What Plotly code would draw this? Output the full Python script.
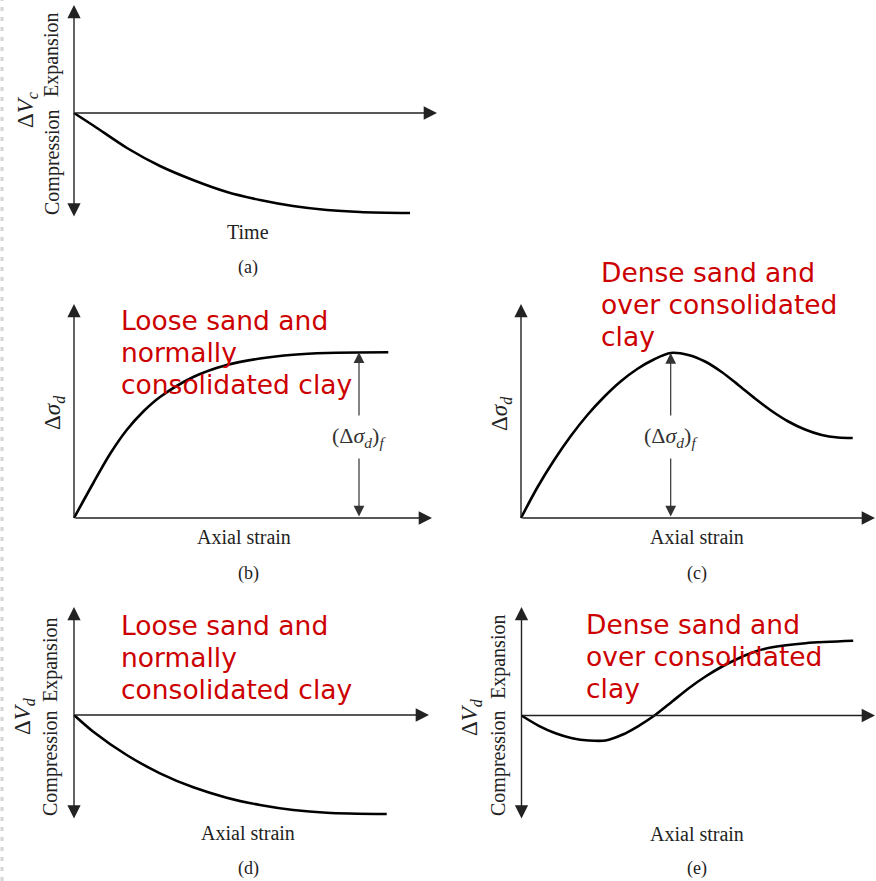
import plotly.graph_objects as go

W, H = 876, 881

# ---------------- data (arbitrary schematic units) ----------------
# (a) volume change during consolidation vs time
time_a = [0, 20, 53, 86, 119, 153, 186, 219, 253, 286, 336]
dVc_a = [0, -13, -35, -53, -67, -79, -87, -93, -97, -99, -100]

# (b) loose sand / normally consolidated clay: deviator stress vs axial strain
strain_b = [0, 19.3, 36, 52.7, 69.3, 86, 119.3, 152.7, 186, 219.3, 252.7, 314.3]
dsig_b = [0, 35, 64, 88, 106.5, 121, 141, 153, 159.5, 163.3, 165, 165.7]

# (c) dense sand / over consolidated clay: deviator stress vs axial strain
strain_c = [0, 16.6, 33.2, 49.8, 66.4, 83, 99.6, 116.2, 132.8, 149.7, 167.3, 184,
            200.7, 217.3, 234, 250.7, 267.3, 284, 300.7, 317, 331.7]
dsig_c = [0, 31, 58, 82, 103, 121, 136.5, 149, 158.5, 165, 163, 156.5,
          146, 133, 119.5, 107, 96.5, 88.5, 83, 80.5, 80]

# (d) loose sand: volume change vs axial strain
strain_d = [0, 19.3, 52.7, 86, 119.3, 152.7, 186, 219.3, 252.7, 312.7]
dVd_d = [0, -16.7, -40, -58.3, -72.3, -82.7, -90, -95, -97.7, -99]

# (e) dense sand: volume change vs axial strain
strain_e = [0, 17.3, 34, 50.7, 67.3, 84, 100.7, 117.3, 134, 150.7, 167.3, 184,
            200.7, 217.3, 234, 250.7, 284, 331.7]
dVd_e = [0, -10.3, -17.7, -22.7, -25, -25, -19.3, -10.3, 0.7, 14, 27.3, 39,
         49, 57.3, 64, 68.3, 72.3, 74.7]

failure_b_x = 285  # strain at which (Δσd)f is marked in (b)

loose_lines = ["Loose sand and", "normally", "consolidated clay"]
dense_lines = ["Dense sand and", "over consolidated", "clay"]

# ---------------- layout helpers ----------------
SERIF = "Liberation Serif, Times New Roman, serif"
SANS = "DejaVu Sans, Verdana, sans-serif"
RED = "#cc0000"
INK = "#222222"


def px(x):
    return x / W


def py(y):
    return 1 - y / H


fig = go.Figure()
annotations = []

# panel geometry in pixels: origin and box (left, right, top, bottom)
panels = [
    dict(name="a", origin=(74, 113), box=(55, 450, 0, 226),
         xhead=437, yup=5, ydown=218),
    dict(name="b", origin=(74, 518), box=(55, 450, 290, 530),
         xhead=432, yup=304, ydown=None),
    dict(name="c", origin=(521, 518), box=(505, 876, 290, 530),
         xhead=875, yup=304, ydown=None),
    dict(name="d", origin=(74, 715), box=(55, 450, 600, 826),
         xhead=429, yup=607, ydown=820),
    dict(name="e", origin=(521.5, 715.5), box=(505, 876, 600, 826),
         xhead=875, yup=607, ydown=820),
]

series = {
    "a": (time_a, dVc_a),
    "b": (strain_b, dsig_b),
    "c": (strain_c, dsig_c),
    "d": (strain_d, dVd_d),
    "e": (strain_e, dVd_e),
}

axis_common = dict(visible=False, showgrid=False, zeroline=False, fixedrange=True)

for i, p in enumerate(panels, start=1):
    ox, oy = p["origin"]
    l, r, t, b = p["box"]
    xa = "xaxis" if i == 1 else f"xaxis{i}"
    ya = "yaxis" if i == 1 else f"yaxis{i}"
    xr = "x" if i == 1 else f"x{i}"
    yr = "y" if i == 1 else f"y{i}"
    fig.update_layout(**{
        xa: dict(domain=[px(l), px(r)], range=[l - ox, r - ox], anchor=yr, **axis_common),
        ya: dict(domain=[py(b), py(t)], range=[oy - b, oy - t], anchor=xr, **axis_common),
    })
    xs, ys = series[p["name"]]
    fig.add_trace(go.Scatter(x=xs, y=ys, mode="lines", xaxis=xr, yaxis=yr,
                             line=dict(color="black", width=2.6, shape="spline", smoothing=0.9),
                             hoverinfo="skip", showlegend=False))
    arrow = dict(xref=xr, yref=yr, axref=xr, ayref=yr, text="", showarrow=True,
                 arrowhead=2, arrowsize=1.9, arrowwidth=1.4, arrowcolor=INK, standoff=0)
    # horizontal axis
    annotations.append(dict(arrow, x=p["xhead"] - ox, y=0, ax=0, ay=0))
    # vertical axis
    if p["ydown"] is None:
        annotations.append(dict(arrow, x=0, y=oy - p["yup"], ax=0, ay=0))
    else:
        annotations.append(dict(arrow, x=0, y=oy - p["yup"], ax=0, ay=oy - p["ydown"],
                                arrowside="end+start", startarrowhead=2, startarrowsize=1.9))
    p["xr"], p["yr"] = xr, yr

# (Δσd)f double arrows
fail_b = max(dsig_b)
fail_c = max(dsig_c)
fail_c_x = strain_c[dsig_c.index(fail_c)]
for p, fx, fy in [(panels[1], failure_b_x, fail_b), (panels[2], fail_c_x, fail_c)]:
    annotations.append(dict(xref=p["xr"], yref=p["yr"], axref=p["xr"], ayref=p["yr"],
                            x=fx, y=fy, ax=fx, ay=0, text="", showarrow=True,
                            arrowside="end+start", arrowhead=2, startarrowhead=2,
                            arrowsize=1.8, startarrowsize=1.8, arrowwidth=1.2,
                            arrowcolor="#333333", standoff=0, startstandoff=0))
    annotations.append(dict(xref=p["xr"], yref=p["yr"], x=fx, y=fy * 0.49,
                            text="(Δ<i>σ</i><sub><i>d</i></sub>)<sub><i>f</i></sub>",
                            showarrow=False, bgcolor="white", borderpad=7,
                            font=dict(family=SERIF, size=22, color="#333333")))


def label(text, x, y, size=20, angle=0, color=INK, family=SERIF, xanchor="center",
          yanchor="middle", align="center"):
    annotations.append(dict(xref="paper", yref="paper", x=px(x), y=py(y), text=text,
                            showarrow=False, textangle=angle, xanchor=xanchor, yanchor=yanchor,
                            align=align, font=dict(family=family, size=size, color=color)))


# axis titles and captions
label("Time", 248, 232)
label("(a)", 248, 267, size=18)
label("Axial strain", 244, 537)
label("(b)", 248, 573, size=18)
label("Axial strain", 697, 537)
label("(c)", 697, 573, size=18)
label("Axial strain", 248, 833)
label("(d)", 248, 868, size=18)
label("Axial strain", 697, 834)
label("(e)", 697, 868, size=18)

# vertical axis labels
label("Expansion", 52, 55, angle=-90)
label("Compression", 52, 162, angle=-90)
label("Δ<i>V</i><sub><i>c</i></sub>", 27, 110, size=23, angle=-90)
label("Δ<i>σ</i><sub><i>d</i></sub>", 54, 413, size=23, angle=-90)
label("Δ<i>σ</i><sub><i>d</i></sub>", 501, 413, size=23, angle=-90)
label("Expansion", 50, 660, angle=-90)
label("Compression", 50, 763, angle=-90)
label("Δ<i>V</i><sub><i>d</i></sub>", 24, 716, size=23, angle=-90)
label("Expansion", 498, 657, angle=-90)
label("Compression", 498, 763, angle=-90)
label("Δ<i>V</i><sub><i>d</i></sub>", 471, 717, size=23, angle=-90)

# red soil-type notes (one annotation per line to keep the tight line spacing)
for lines, x, y0 in [(loose_lines, 119, 320), (dense_lines, 599, 272),
                     (loose_lines, 119, 625), (dense_lines, 584, 624)]:
    for k, txt in enumerate(lines):
        label(txt, x, y0 + 32 * k, size=26.5, color=RED, family=SANS,
              xanchor="left", align="left")

fig.update_layout(
    width=W, height=H, margin=dict(l=0, r=0, t=0, b=0),
    paper_bgcolor="white", plot_bgcolor="rgba(0,0,0,0)",
    showlegend=False, annotations=annotations,
    shapes=[dict(type="line", xref="paper", yref="paper", x0=px(2), x1=px(2), y0=0, y1=1,
                 line=dict(color="#d6d6d6", width=3, dash="4px,6px"))],
)

fig.write_html("out.html", config={"displayModeBar": False})
